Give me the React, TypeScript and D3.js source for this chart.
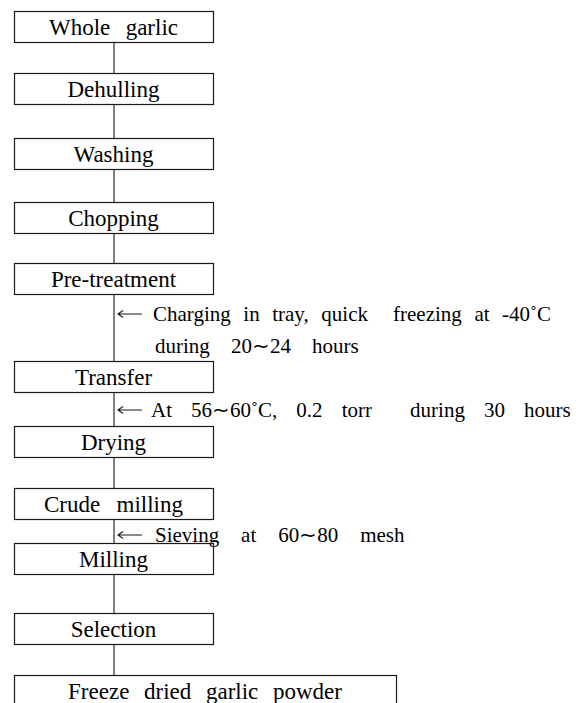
import React from "react";
import { scaleLinear } from "d3";

// ---- data ----
const steps: string[] = [
  "Whole garlic",
  "Dehulling",
  "Washing",
  "Chopping",
  "Pre-treatment",
  "Transfer",
  "Drying",
  "Crude milling",
  "Milling",
  "Selection",
  "Freeze dried garlic powder",
];
const noteLines: string[][] = [
  ["Charging in tray, quick  freezing at -40˚C", "during 20∼24 hours"],
  ["At 56∼60˚C, 0.2 torr  during 30 hours"],
  ["Sieving at 60∼80 mesh"],
];

// ---- layout ----
const W = 576;
const H = 703;
const boxTop = [11, 73, 138, 202, 263, 361, 426, 488, 543, 613, 675];
const boxH = 31;
const boxLeft = 14;
const boxRight = 213;
const lastRight = 396;
const spineX = 114;
const labelFont = 23;
const noteFont = 21;
const labelWidth: (number | null)[] = [129, null, null, null, 129, null, null, 139, null, null, 274];
const noteBase = [[321, 353], [417], [542]];
const noteStart = [[153, 155], [151], [155]];
const noteEnd = [[553, 352], [564], [398]];
const arrowX0 = 118;
const arrowX1 = 142;
const ink = "#1a1a1a";
const FONT = "Liberation Serif";

// Times / Liberation Serif advance widths (per 1000 em)
const adv: Record<string, number> = {
  " ": 250, "-": 333, ",": 250, ".": 250, "˚": 333, "∼": 541,
  A: 722, C: 667, D: 722, F: 556, M: 889, P: 611, S: 556, T: 611, W: 944,
  a: 444, c: 444, d: 500, e: 444, f: 333, g: 500, h: 500, i: 278, k: 500, l: 278,
  m: 778, n: 500, o: 500, p: 500, q: 500, r: 333, s: 389, t: 278, u: 500, v: 500,
  w: 722, y: 500, z: 444,
};
const textWidth = (s: string, size: number) =>
  (Array.from(s).reduce((acc, ch) => acc + (adv[ch] ?? 500), 0) / 1000) * size;
const wordSpacingFor = (s: string, size: number, target: number | null) => {
  if (target == null) return 0;
  const n = (s.match(/ /g) || []).length;
  if (!n) return 0;
  return Math.round(((target - textWidth(s, size)) / n) * 10) / 10;
};

const yScale = scaleLinear().domain([0, H]).range([0, H]);

export default function App() {
  return (
    <svg width={W} height={H} style={{ position: "absolute", left: 0, top: 0 }}>
      {steps.map((s, i) => {
        const right = i === steps.length - 1 ? lastRight : boxRight;
        return (
          <text
            key={`t${i}`}
            x={(boxLeft + right) / 2}
            y={yScale(boxTop[i]) + 24}
            textAnchor="middle"
            style={{
              fontFamily: FONT,
              fontSize: labelFont,
              whiteSpace: "pre",
              wordSpacing: wordSpacingFor(s, labelFont, labelWidth[i]),
            }}
          >
            {s}
          </text>
        );
      })}
      {noteLines.map((lines, k) =>
        lines.map((ln, j) => (
          <text
            key={`n${k}-${j}`}
            x={noteStart[k][j]}
            y={yScale(noteBase[k][j])}
            style={{
              fontFamily: FONT,
              fontSize: noteFont,
              whiteSpace: "pre",
              wordSpacing: wordSpacingFor(ln, noteFont, noteEnd[k][j] - noteStart[k][j]),
            }}
          >
            {ln}
          </text>
        ))
      )}
      {steps.slice(0, -1).map((_, i) => (
        <line
          key={`c${i}`}
          x1={spineX}
          x2={spineX}
          y1={yScale(boxTop[i] + boxH)}
          y2={yScale(boxTop[i + 1])}
          stroke={ink}
          strokeWidth={1.1}
        />
      ))}
      {steps.map((_, i) => {
        const right = i === steps.length - 1 ? lastRight : boxRight;
        return (
          <rect
            key={`b${i}`}
            x={boxLeft + 0.5}
            y={yScale(boxTop[i]) + 0.5}
            width={right - boxLeft}
            height={boxH}
            fill="none"
            stroke={ink}
            strokeWidth={1.2}
          />
        );
      })}
      {noteLines.map((_, k) => {
        const ay = yScale(noteBase[k][0]) - 7;
        return (
          <path
            key={`a${k}`}
            d={`M${arrowX1},${ay}H${arrowX0}M${arrowX0 + 5},${ay - 3.5}L${arrowX0},${ay}L${arrowX0 + 5},${ay + 3.5}`}
            fill="none"
            stroke={ink}
            strokeWidth={1.1}
          />
        );
      })}
    </svg>
  );
}
